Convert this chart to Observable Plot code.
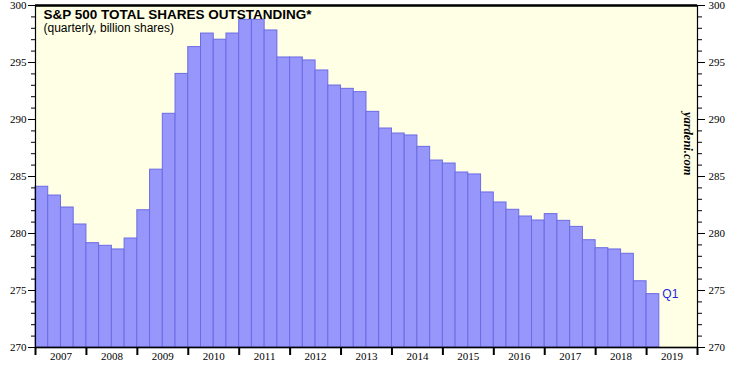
<!DOCTYPE html>
<html>
<head>
<meta charset="utf-8">
<script src="https://cdn.jsdelivr.net/npm/d3@7"></script>
<script src="https://cdn.jsdelivr.net/npm/@observablehq/plot@0.6"></script>
<style>
  html, body { margin: 0; padding: 0; background: #ffffff; }
  #chart svg { display: block; }
  #chart g[aria-label$="tick label"],
  #chart g[aria-label$="tick label"] text { font-family: 'Liberation Serif', 'Times New Roman', serif !important; font-variant: normal !important; }
</style>
</head>
<body>
<div id="chart"></div>
<script>
const title = "S&P 500 TOTAL SHARES OUTSTANDING*";
const subtitle = "(quarterly, billion shares)";
const credit = "yardeni.com";
const years = [2007, 2008, 2009, 2010, 2011, 2012, 2013, 2014, 2015, 2016, 2017, 2018, 2019];
const quarterNames = ["Q1", "Q2", "Q3", "Q4"];
// quarterly values starting 2007 Q1 (billion shares)
const shares = [
  284.10, 283.33, 282.28, 280.79,
  279.15, 278.92, 278.60, 279.56,
  282.04, 285.60, 290.50, 294.00,
  296.35, 297.54, 297.00, 297.54,
  298.74, 298.74, 297.81, 295.44,
  295.44, 295.18, 294.30, 292.98,
  292.69, 292.40, 290.67, 289.21,
  288.77, 288.60, 287.60, 286.40,
  286.14, 285.35, 285.18, 283.60,
  282.72, 282.08, 281.49, 281.14,
  281.70, 281.11, 280.58, 279.41,
  278.71, 278.60, 278.22, 275.81,
  274.68
];
const yMajorTicks = [270, 275, 280, 285, 290, 295, 300];
const yMinorTicks = d3.range(270, 301, 1);

const data = shares.map((v, i) => ({
  year: years[Math.floor(i / 4)],
  q: i % 4,
  value: v
}));
const xStart = d => d.year + d.q / 4;
const xEnd = d => d.year + (d.q + 1) / 4;
const yearEdges = [...years, years[years.length - 1] + 1];
const yearMids = years.map(y => y + 0.5);

const serif = "Liberation Serif, Times New Roman, serif";
const sans = "Liberation Sans, Arial, sans-serif";

const chart = Plot.plot({
  width: 744,
  height: 371,
  marginLeft: 35,
  marginRight: 47,
  marginTop: 5,
  marginBottom: 24,
  style: { background: "#ffffff", color: "#000000", fontFamily: serif, fontSize: "11px" },
  x: { domain: [2007, 2020], axis: null },
  y: { domain: [270, 300], axis: null },
  marks: [
    Plot.frame({ fill: "#ffffe5", stroke: null }),
    Plot.rect(data, {
      x1: xStart, x2: xEnd, y1: () => 270, y2: "value",
      fill: "#9797fb", stroke: "#6b6be6", strokeWidth: 1
    }),
    Plot.frame({ stroke: "#000000", strokeWidth: 1.2 }),
    Plot.ruleY([300], { stroke: "#000000", strokeWidth: 2.5 }),
    Plot.ruleY([270], { stroke: "#000000", strokeWidth: 1.5 }),
    // left axis
    Plot.axisY(yMinorTicks, { anchor: "left", tickSize: 4, tickFormat: () => "", label: null }),
    Plot.axisY(yMajorTicks, { anchor: "left", tickSize: 7, tickPadding: 2, label: null, fontSize: 11, fontFamily: serif }),
    // right axis
    Plot.axisY(yMinorTicks, { anchor: "right", tickSize: 4, tickFormat: () => "", label: null }),
    Plot.axisY(yMajorTicks, { anchor: "right", tickSize: 7, tickPadding: 4, label: null, fontSize: 11, fontFamily: serif }),
    // bottom axis
    Plot.axisX(yearEdges, { anchor: "bottom", tickSize: 8, strokeWidth: 2, tickFormat: () => "", label: null }),
    Plot.axisX(yearMids, { anchor: "bottom", tickSize: 0, tickPadding: 5, tickFormat: d => String(Math.floor(d)), label: null, fontSize: 11, fontFamily: serif }),
    // last quarter label
    Plot.text([data[data.length - 1]], {
      x: xEnd, y: "value", text: d => quarterNames[d.q],
      dx: 3, textAnchor: "start", fill: "#2424e0", fontSize: 12, fontFamily: sans
    }),
    // titles
    Plot.text([title], {
      frameAnchor: "top-left", dx: 8, dy: 4, lineAnchor: "top",
      fontSize: 13.5, fontWeight: "bold", fontFamily: sans, fill: "#000000"
    }),
    Plot.text([subtitle], {
      frameAnchor: "top-left", dx: 8, dy: 18, lineAnchor: "top",
      fontSize: 12, fontFamily: sans, fill: "#000000"
    }),
    Plot.text([credit], {
      frameAnchor: "right", dx: -10, dy: -1, rotate: 90,
      fontSize: 12.5, fontStyle: "italic", fontWeight: "bold", fontFamily: serif, fill: "#000000"
    })
  ]
});
document.getElementById("chart").appendChild(chart);
</script>
</body>
</html>
